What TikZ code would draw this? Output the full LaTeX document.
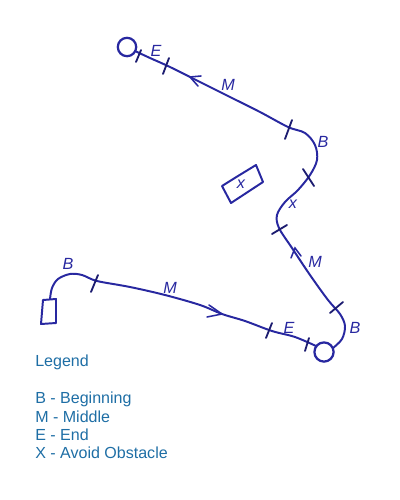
\documentclass[tikz,border=0pt]{standalone}
\usepackage{fontspec}
\setmainfont{Liberation Sans}
\usetikzlibrary{arrows.meta}
\definecolor{pen}{RGB}{40,40,160}
\definecolor{legendblue}{RGB}{30,110,165}
\begin{document}
\begin{tikzpicture}[x=0.025cm,y=-0.025cm,
  route/.style={draw=pen,line width=1.4pt,line cap=round,line join=round},
  tickmark/.style={draw=pen!70!black,line width=1.3pt,line cap=round},
  chev/.style={draw=pen,line width=1.1pt,line cap=round},
  hand/.style={text=pen,font=\fontsize{11.5}{11.5}\selectfont\itshape,inner sep=0pt},
  legendtext/.style={text=legendblue,font=\fontsize{11.4}{13}\selectfont,anchor=west,inner sep=0pt},
  endcircle/.style={draw=pen,line width=1.6pt,circle,inner sep=0pt}]
\useasboundingbox (0,0) rectangle (400,500);
% end circles
\node[endcircle,minimum size=0.46cm] (ctop) at (127,47) {};
\node[endcircle,minimum size=0.48cm] (cbot) at (324,352) {};
% start box
\draw[route] (43,300) -- (56,299) -- (56,323) -- (41,324) -- cycle;
% obstacle
\draw[route] (222,186) -- (238,176) -- (256,165) -- (263,182) -- (231,203) -- cycle;
\node[hand] (xobs) at (241,184) {x};
% main route from top circle to bottom circle
\draw[route] (ctop.east) plot[smooth,tension=0.55] coordinates {(135,51) (150,58) (170,67) (200,82) (230,97) (260,112) (288,127) (305,133) (315,145) (317,160) (310,175) (298,190) (285,202) (277,215) (279,228) (292,248) (310,275) (328,300) (340,314) (345,326) (342,339) (333,348)};
% second route from box to bottom circle
\draw[route] plot[smooth,tension=0.55] coordinates {(50,299) (52,288) (58,279) (70,274) (82,275) (97,281) (130,287) (165,295) (200,305) (222,314) (245,321) (272,331) (295,337) (316,346)};
% ticks
\draw[tickmark] (136,62) -- (141,50);
\draw[tickmark] (163,74) -- (169,58);
\draw[tickmark] (285,139) -- (292,120);
\draw[tickmark] (303,169) -- (314,186);
\draw[tickmark] (272,234) -- (287,225);
\draw[tickmark] (330,313) -- (343,302);
\draw[tickmark] (305,351) -- (309,338);
\draw[tickmark] (266,338) -- (272,323);
\draw[tickmark] (91,292) -- (98,275);
% chevrons
\draw[chev] (201,76) -- (190,77) -- (198,86);
\draw[chev] (291,258) -- (295,248) -- (301,256);
\draw[chev] (209,305) -- (222,314) -- (207,317);
% labels
\node[hand] (le1) at (156,51) {E};
\node[hand] (lm1) at (228,85) {M};
\node[hand] (lb1) at (323,142) {B};
\node[hand] (lx1) at (293,204) {x};
\node[hand] (lm2) at (315,262) {M};
\node[hand] (lb2) at (355,328) {B};
\node[hand] (le2) at (289,328) {E};
\node[hand] (lm3) at (170,288) {M};
\node[hand] (lb3) at (68,264) {B};
% legend
\node[legendtext] (leg) at (35,362) {Legend};
\node[legendtext] (legb) at (35,399) {B - Beginning};
\node[legendtext] (legm) at (35,417) {M - Middle};
\node[legendtext] (lege) at (35,435) {E - End};
\node[legendtext] (legx) at (35,453) {X - Avoid Obstacle};
\end{tikzpicture}
\end{document}
